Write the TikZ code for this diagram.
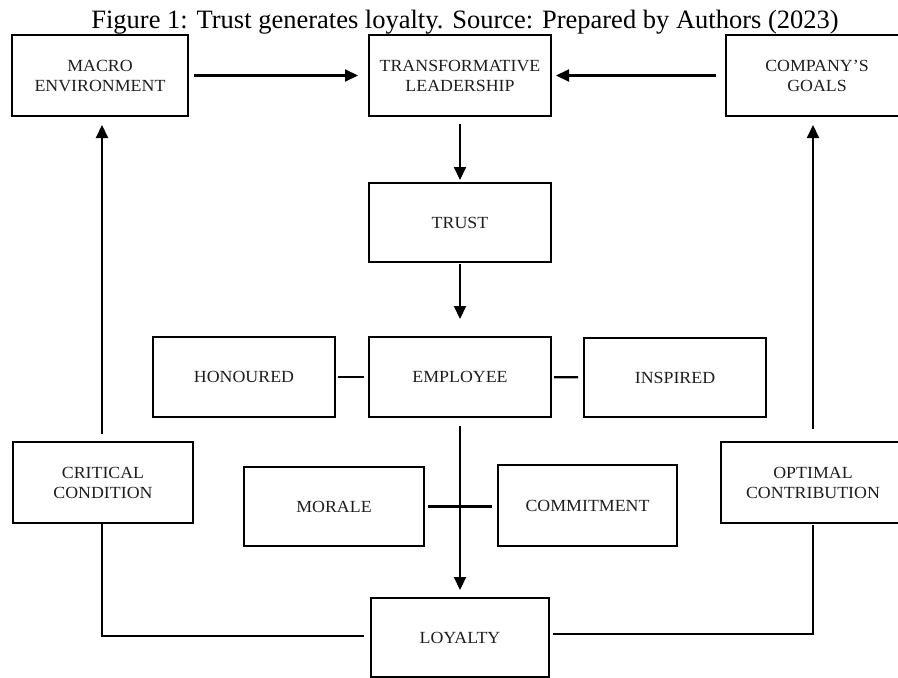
\documentclass[tikz,border=0pt]{standalone}
\usepackage{fontspec}
\setmainfont{Liberation Serif}
\newfontfamily\boxfont[FakeStretch=1.05]{Liberation Serif}
\usetikzlibrary{arrows.meta}
\definecolor{txtgray}{HTML}{1E1E1E}
\begin{document}
\begin{tikzpicture}[x=1pt,y=-1pt,
  bx/.style={draw=black, line width=2.9pt, inner sep=0pt, outer sep=0pt, align=center,
    font=\boxfont\fontsize{17}{20}\selectfont, text=txtgray},
  ln/.style={draw=black, line width=2.1pt},
  arr/.style={ln, -{Triangle[width=12pt,length=13pt]}}]
\useasboundingbox[fill=white] (0,0) rectangle (898,678);
\node[font=\fontsize{26.5}{30}\selectfont, anchor=base] (title) at (465,28)
  {Figure 1: Trust generates loyalty. Source: Prepared by Authors (2023)};
\node[bx, minimum width=176pt, minimum height=81pt] (mac) at (100,75.5) {MACRO\\ENVIRONMENT};
\node[bx, minimum width=182pt, minimum height=81pt] (tra) at (460,75.5) {TRANSFORMATIVE\\LEADERSHIP};
\node[bx, minimum width=182pt, minimum height=81pt] (com) at (817,75.5) {COMPANY’S\\GOALS};
\node[bx, minimum width=182pt, minimum height=79pt] (tru) at (460,222.5) {TRUST};
\node[bx, minimum width=182pt, minimum height=80pt] (hon) at (244,377) {HONOURED};
\node[bx, minimum width=182pt, minimum height=80pt] (emp) at (460,377) {EMPLOYEE};
\node[bx, minimum width=182pt, minimum height=79pt] (ins) at (675,377.5) {INSPIRED};
\node[bx, minimum width=180pt, minimum height=81pt] (cri) at (103,482.5) {CRITICAL\\CONDITION};
\node[bx, minimum width=180pt, minimum height=79pt] (mor) at (334,506.5) {MORALE};
\node[bx, minimum width=179pt, minimum height=81pt] (cmt) at (587.5,505.5) {COMMITMENT};
\node[bx, minimum width=184pt, minimum height=81pt] (opt) at (813,482.5) {OPTIMAL\\CONTRIBUTION};
\node[bx, minimum width=178pt, minimum height=79pt] (loy) at (460,637.5) {LOYALTY};
% arrows
\draw[arr, shorten <=6pt, shorten >=11pt] (mac) -- (tra);
\draw[arr, shorten <=10pt, shorten >=5pt] (com) -- (tra);
\draw[arr, shorten <=8pt, shorten >=3pt] (tra) -- (tru);
\draw[arr, shorten <=2pt, shorten >=18pt] (tru) -- (emp);
\draw[arr, shorten <=9pt, shorten >=8pt] (emp) -- (loy);
\draw[arr, shorten <=8pt, shorten >=9pt] ([xshift=-1pt]cri.north) -- ([xshift=-1pt]cri.north |- mac.south);
\draw[arr, shorten <=13pt, shorten >=9pt] (opt.north) -- (opt.north |- com.south);
% plain lines
\draw[ln, shorten <=3pt, shorten >=5pt] (hon) -- (emp);
\draw[ln, shorten <=3pt, shorten >=6pt] (emp) -- (ins);
\draw[ln, shorten <=4pt, shorten >=6pt] (mor.east) -- (mor.east -| cmt.west);
\draw[ln, shorten >=7pt] ([xshift=-1pt]cri.south) |- ([yshift=1.5pt]loy.west);
\draw[ln, shorten <=4pt, shorten >=2pt] ([yshift=3.5pt]loy.east) -| (opt.south);
\end{tikzpicture}
\end{document}
